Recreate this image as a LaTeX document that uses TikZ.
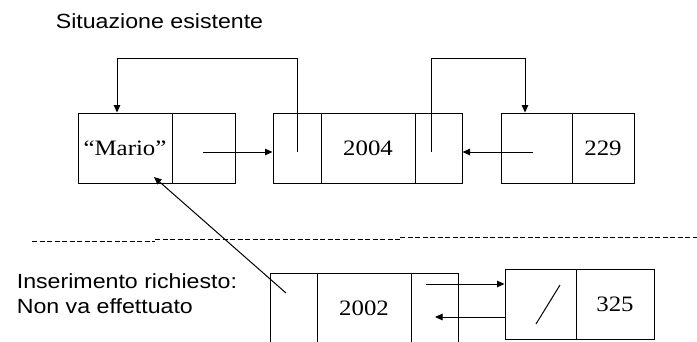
\documentclass[tikz,border=0pt]{standalone}
\usepackage{fontspec}
\setmainfont{Liberation Serif}
\setsansfont{Liberation Sans}
\usetikzlibrary{arrows.meta}

\newcommand{\larga}[1]{\scalebox{1.13}[1]{#1}}

\begin{document}
\begin{tikzpicture}[x=1pt, y=-1pt, line width=1pt,
    >={Triangle[length=7.5pt,width=6.5pt]},
    cella/.style={draw, minimum height=70pt, inner sep=0pt,
      font=\fontsize{22}{24}\selectfont},
    scritta/.style={anchor=base west,
      font=\sffamily\fontsize{20.5}{24}\selectfont}]
  \clip (0,0) rectangle (697,341);
  % situazione esistente
  \node[scritta] (titolo) at (52,28) {\larga{Situazione esistente}};
  \node[cella, minimum width=94pt] (mario) at (125,148) {\larga{``Mario''}};
  \node[cella, minimum width=63pt] (mnext) at (203.5,148) {};
  \node[cella, minimum width=48pt] (dpre) at (297,148) {};
  \node[cella, minimum width=94pt] (dval) at (368,148) {\larga{2004}};
  \node[cella, minimum width=47pt] (dnext) at (438.5,148) {};
  \node[cella, minimum width=71pt] (tpre) at (536.5,148) {};
  \node[cella, minimum width=62pt] (tval) at (603,148) {\larga{229}};
  \coordinate (pm) at (203,152);
  \coordinate (pd1) at (297,152);
  \coordinate (pd2) at (431,152);
  \coordinate (pt) at (533,152);
  \coordinate (ang1) at (117,58);
  \coordinate (ang2) at (525,58);
  \draw[->] (pm) -- (dpre.west |- pm);
  \draw[->] (pd1) |- (ang1) -- (ang1 |- mario.north);
  \draw[->] (pd2) |- (ang2) -- (ang2 |- tpre.north);
  \draw[->] (pt) -- (dnext.east |- pt);
  % separazione
  \draw[dash pattern=on 5pt off 2.5pt] (32,241) -- (155,241);
  \draw[dash pattern=on 5pt off 2.5pt] (155,239) -- (400,239);
  \draw[dash pattern=on 5pt off 2.5pt] (400,237) -- (697,237);
  % inserimento
  \node[scritta] (ins) at (13,288) {\larga{Inserimento richiesto:}};
  \node[scritta] (nonva) at (13,313) {\larga{Non va effettuato}};
  \node[cella, minimum width=47pt] (npre) at (293.5,308) {};
  \node[cella, minimum width=94pt] (nval) at (364,308) {\larga{2002}};
  \node[cella, minimum width=47pt] (nnext) at (434.5,308) {};
  \node[cella, minimum width=71pt] (qpre) at (540.5,304) {};
  \node[cella, minimum width=78pt] (qval) at (615,304) {\larga{325}};
  \draw (536,324) -- (560,285);
  \coordinate (pn) at (426,284);
  \coordinate (fq) at (435,317);
  \coordinate (pi) at (286,293);
  \coordinate (fm) at (154,177);
  \draw[->] (pn) -- (qpre.west |- pn);
  \draw[->] (fq -| qpre.west) -- (fq);
  \draw[->] (pi) -- (fm);
\end{tikzpicture}
\end{document}
